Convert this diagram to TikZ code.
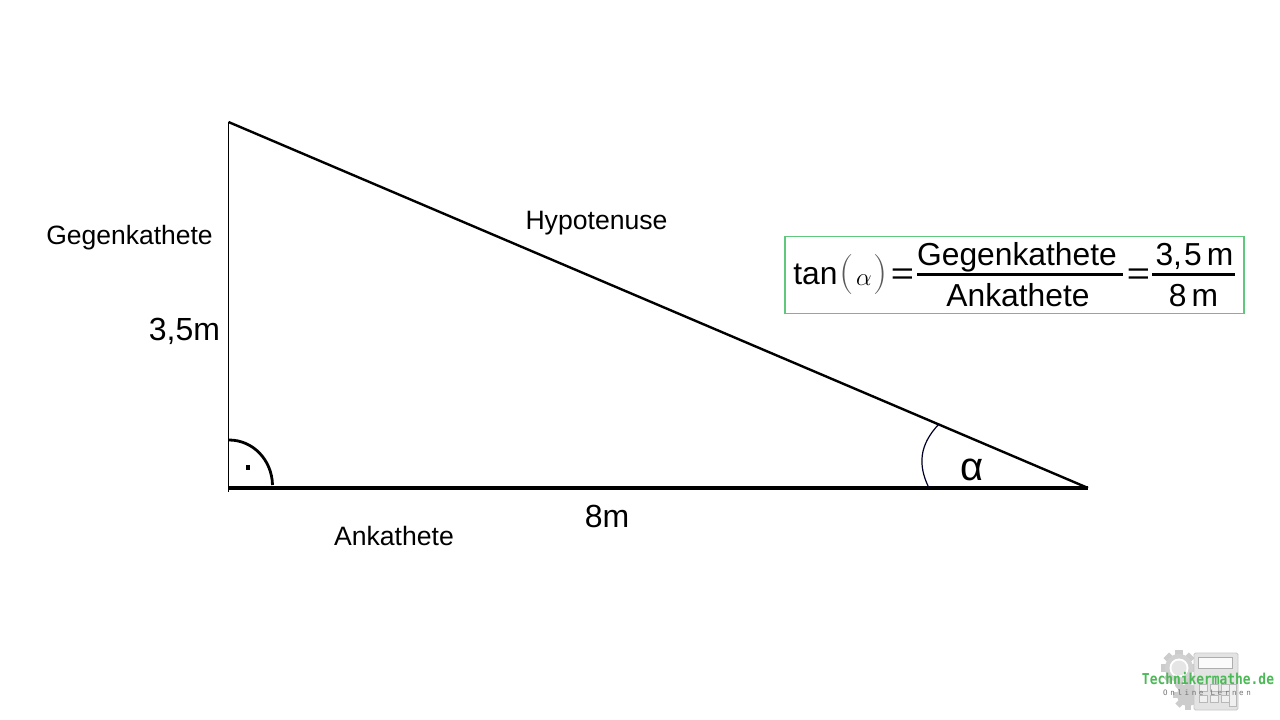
\documentclass[tikz,border=0pt]{standalone}
\usepackage{fontspec}
\usepackage{amsmath}
\setmainfont{Liberation Sans}
\newfontfamily\logofont{DejaVu Sans Mono}
\newfontfamily\logosubfont[LetterSpace=35]{DejaVu Sans Mono}
\newfontfamily\lmr{Latin Modern Roman}
\newcommand{\fs}[1]{\fontsize{#1}{#1}\selectfont}
\definecolor{boxgreen}{RGB}{95,200,125}
\definecolor{logogreen}{RGB}{75,185,85}
\tikzset{
  lbl/.style={inner sep=0pt,anchor=base,text=black},
  edge thin/.style={line width=1.1pt,black},
  hypo/.style={line width=2.4pt,black},
  base/.style={line width=3.6pt,black}
}
\begin{document}
\begin{tikzpicture}[x=1pt,y=-1pt]
\useasboundingbox (0,0) rectangle (1280,720);
\fill[white] (0,0) rectangle (1280,720);
% triangle corners
\coordinate (A) at (228.5,488);
\coordinate (B) at (228.5,122);
\coordinate (C) at (1088,488);
\draw[edge thin] (228.5,492) -- (B);
\draw[hypo] (B) -- (C);
\draw[base] (A) -- (C);
% right angle
\draw[line width=2.8pt] (229,440) .. controls (253,440) and (272,460) .. (272.5,485);
\fill[black] (245.5,464.5) rectangle (250,469.5);
% angle alpha
\draw[line width=1.2pt,black!75!blue!60!black] (939,424) .. controls (919,445) and (918,465) .. (928.5,487);
% labels
\node[lbl,font=\fs{40}] (alpha) at (972.5,480) {α};
\node[lbl,font=\fs{26.6}] (hyp) at (596.5,229.5) {Hypotenuse};
\node[lbl,font=\fs{26.5}] (geg) at (129.5,244.5) {Gegenkathete};
\node[lbl,font=\fs{26.6}] (ank) at (394,545) {Ankathete};
\node[lbl,font=\fs{32}] (h) at (184.5,340) {3,5m};
\node[lbl,font=\fs{32}] (b) at (607,527.5) {8m};
% formula box
\node[draw=boxgreen,line width=1.2pt,fill=white,minimum width=459pt,minimum height=77pt,inner sep=0pt] (box) at (1014.5,275) {};
\node[lbl,font=\fs{31.8}] (tan) at (815.5,284) {tan};
\node[lbl,font=\lmr\fs{40},text=black!65] (lp) at (847,284) {(};
\node[lbl,font=\fs{37}] (al) at (864,285) {$\alpha$};
\node[lbl,font=\lmr\fs{40},text=black!65] (rp) at (881,284) {)};
\node[lbl,font=\fs{31.8},xscale=1.25] (eq1) at (902.5,284) {=};
\node[lbl,font=\fs{31.8}] (num1) at (1017,265.5) {Gegenkathete};
\node[lbl,font=\fs{31.8}] (den1) at (1018,306) {Ankathete};
\node[lbl,font=\fs{31.8},xscale=1.25] (eq2) at (1138.5,284) {=};
\node[lbl,font=\fs{31.8}] (num2) at (1194.5,265.5) {3,\kern2pt 5\,m};
\node[lbl,font=\fs{31.8}] (den2) at (1193.5,306) {8\,m};
\draw[line width=2.4pt] (917,274.5) -- (1123,274.5);
\draw[line width=2.4pt] (1152,274.5) -- (1235,274.5);
% logo: gears
\foreach \a in {0,45,...,315}{
  \fill[black!20,rotate around={\a:(1179,668)}] (1175,650) rectangle (1183,658);
  \fill[black!20,rotate around={\a:(1188,695)}] (1185,680) rectangle (1191,686);
}
\fill[black!18] (1179,668) circle[radius=14];
\fill[white] (1179,668) circle[radius=9.5];
\fill[black!10] (1179,668) circle[radius=7.5];
\fill[black!20] (1188,695) circle[radius=11];
% logo: calculator
\fill[black!11,draw=black!22,line width=0.8pt,rounded corners=1.5pt] (1194,653) rectangle (1238,710);
\fill[white!80!black!10,draw=black!32,line width=0.8pt] (1198,657) rectangle (1232,668);
\foreach \x in {1199,1210,1221}{\foreach \y in {684,695}{
  \draw[black!28,line width=0.7pt,fill=black!6] (\x,\y) rectangle +(8,7);
}}
\draw[black!28,line width=0.7pt,fill=black!6] (1229,684) rectangle (1236,706);
% logo: text
\node[lbl,font=\logofont\bfseries\fs{15},xscale=.86,text=logogreen] (logo) at (1208,684.5) {Technikermathe.de};
\node[lbl,font=\logosubfont\fs{7.5},text=black!55] (logosub) at (1207,695) {Online Lernen};
\end{tikzpicture}
\end{document}
